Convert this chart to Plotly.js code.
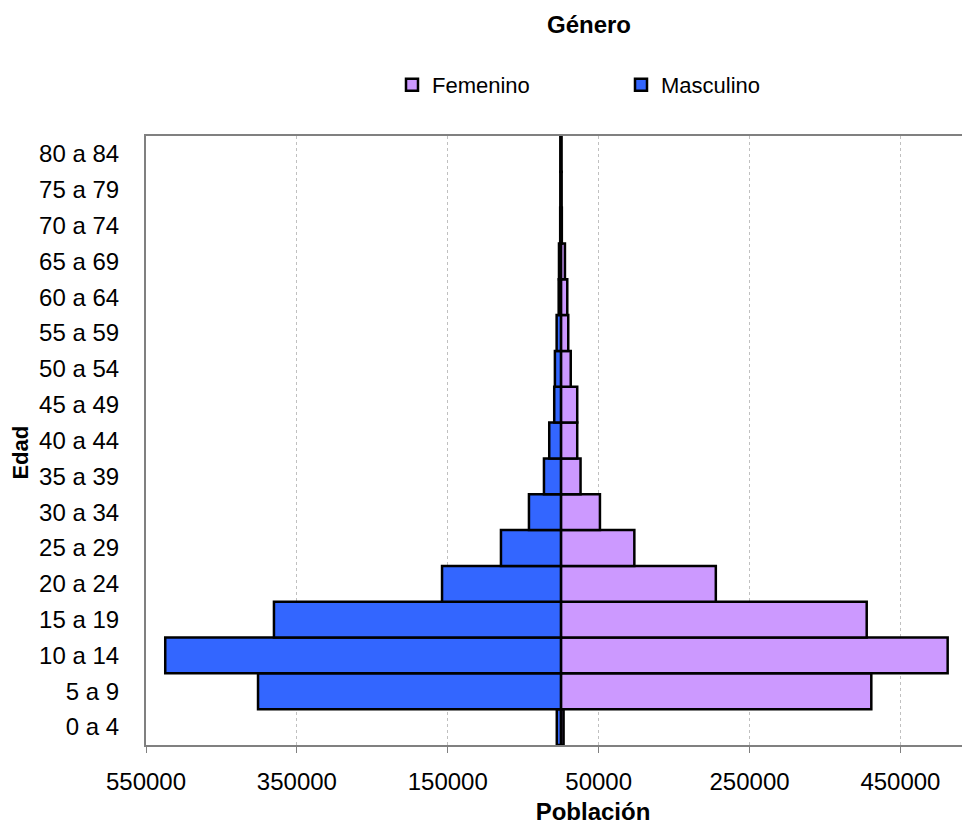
<!DOCTYPE html>
<html>
<head>
<meta charset="utf-8">
<script src="https://cdn.plot.ly/plotly-3.0.1.min.js"></script>
<style>
html, body { margin: 0; padding: 0; overflow: hidden; background: #ffffff; }
#chart { width: 1042px; height: 825px; }
</style>
</head>
<body>
<div id="chart"></div>
<script>
const categories = ["0 a 4", "5 a 9", "10 a 14", "15 a 19", "20 a 24", "25 a 29", "30 a 34", "35 a 39", "40 a 44", "45 a 49", "50 a 54", "55 a 59", "60 a 64", "65 a 69", "70 a 74", "75 a 79", "80 a 84"];
const masculino = [5500, 401500, 524500, 380400, 157600, 79500, 42400, 22500, 15500, 8900, 8000, 5700, 3000, 2600, 1000, 800, 800];
const femenino = [3500, 411400, 512600, 405300, 205300, 97300, 51700, 26000, 21600, 21600, 13000, 9700, 8400, 5300, 1200, 900, 800];
const tickValues = [-550000, -350000, -150000, 50000, 250000, 450000];
const tickLabels = ["550000", "350000", "150000", "50000", "250000", "450000"];

const FONT = "Liberation Sans, Arial, sans-serif";

const traces = [
  {
    type: "bar", orientation: "h", name: "Femenino",
    y: categories, x: femenino,
    marker: { color: "#CC99FF", line: { color: "#000000", width: 2.5 } }
  },
  {
    type: "bar", orientation: "h", name: "Masculino",
    y: categories, x: masculino.map(v => -v),
    marker: { color: "#3366FF", line: { color: "#000000", width: 2.5 } }
  }
];

const layout = {
  width: 1042, height: 825,
  paper_bgcolor: "#ffffff", plot_bgcolor: "#ffffff",
  font: { family: FONT, color: "#000000", size: 22 },
  margin: { l: 146, r: 2, t: 136, b: 80 },
  barmode: "overlay", bargap: 0,
  title: {
    text: "<b>Género</b>", font: { size: 24, family: FONT },
    x: 589 / 1042, xanchor: "center", xref: "container",
    y: 1 - 25 / 825, yanchor: "middle", yref: "container"
  },
  showlegend: true,
  legend: {
    orientation: "h", traceorder: "normal",
    xref: "container", yref: "container",
    x: 392 / 1042, xanchor: "left", y: 1 - 85 / 825, yanchor: "middle",
    entrywidth: 184, entrywidthmode: "pixels",
    font: { size: 22, family: FONT }, bgcolor: "rgba(0,0,0,0)"
  },
  xaxis: {
    range: [-550000, 635000],
    tickvals: tickValues, ticktext: tickLabels,
    tickfont: { size: 24, family: FONT },
    ticks: "outside", ticklen: 6, tickcolor: "#808080", tickwidth: 1,
    ticklabelstandoff: 8,
    showline: true, linecolor: "#808080", linewidth: 2, mirror: true,
    showgrid: true, gridcolor: "#c0c0c0", griddash: "dot", gridwidth: 1,
    zeroline: false,
    title: { text: "<b>Población</b>", font: { size: 24, family: FONT }, standoff: 12 }
  },
  yaxis: {
    type: "category", categoryorder: "array", categoryarray: categories,
    range: [-0.5, 16.5],
    tickfont: { size: 24, family: FONT },
    ticks: "", ticklabelstandoff: 20,
    showline: true, linecolor: "#808080", linewidth: 2, mirror: false,
    showgrid: false, zeroline: false,
    title: { text: "<b>Edad\u00a0\u00a0\u00a0\u00a0</b>", font: { size: 22, family: FONT }, standoff: 4 }
  }
};

Plotly.newPlot("chart", traces, layout, { displayModeBar: false, staticPlot: true });
</script>
</body>
</html>
